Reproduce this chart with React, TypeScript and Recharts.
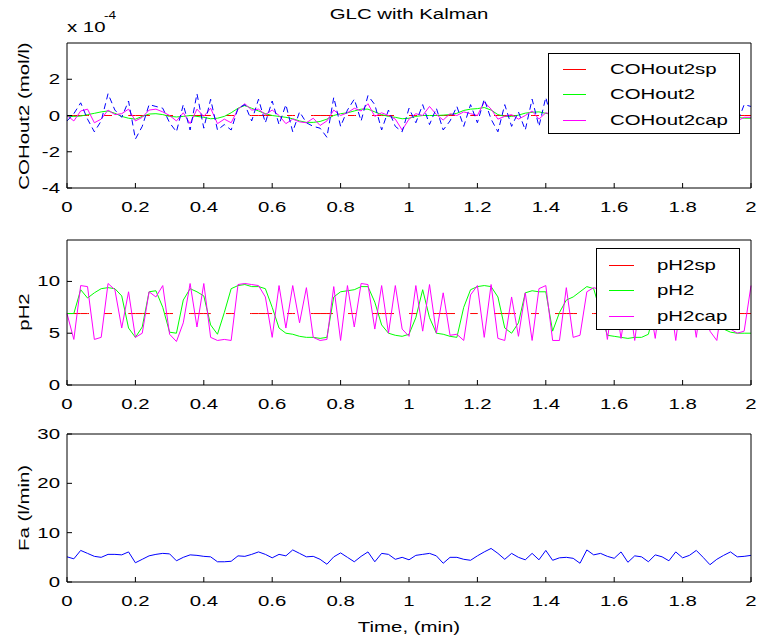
import { Legend, Line, LineChart, XAxis, YAxis } from "recharts";

// MATLAB-style figure: three stacked axes, boxed, ticks pointing inward.
const FONT = '"Liberation Sans", Arial, Helvetica, sans-serif';
const WIDE = 1.36; // the original font is much wider than Arial at the same height

const TIME = [
  0, 0.02, 0.04, 0.06, 0.08, 0.1, 0.12, 0.14, 0.16, 0.18,
  0.2, 0.22, 0.24, 0.26, 0.28, 0.3, 0.32, 0.34, 0.36, 0.38,
  0.4, 0.42, 0.44, 0.46, 0.48, 0.5, 0.52, 0.54, 0.56, 0.58,
  0.6, 0.62, 0.64, 0.66, 0.68, 0.7, 0.72, 0.74, 0.76, 0.78,
  0.8, 0.82, 0.84, 0.86, 0.88, 0.9, 0.92, 0.94, 0.96, 0.98,
  1, 1.02, 1.04, 1.06, 1.08, 1.1, 1.12, 1.14, 1.16, 1.18,
  1.2, 1.22, 1.24, 1.26, 1.28, 1.3, 1.32, 1.34, 1.36, 1.38,
  1.4, 1.42, 1.44, 1.46, 1.48, 1.5, 1.52, 1.54, 1.56, 1.58,
  1.6, 1.62, 1.64, 1.66, 1.68, 1.7, 1.72, 1.74, 1.76, 1.78,
  1.8, 1.82, 1.84, 1.86, 1.88, 1.9, 1.92, 1.94, 1.96, 1.98,
  2,
];

// COHout2 in units of 1e-4 mol/l
const CO_SP_LEVEL = 0;
const CO_MEAS = [
  -0.3, 0.1, 0.7, -0.2, -0.9, -0.3, 1.2, 0.3, -0.1, 0.8,
  -1.3, -0.6, 0.6, 0.5, 0.4, -0.4, -0.9, 0.6, -0.8, 1.2,
  -0.7, 0.9, -0.8, -0.5, -0.8, 0.4, 0.6, -0.3, 0.9, -0.4,
  0.8, -0.5, 0.6, -0.9, 0.2, -0.4, -0.6, -0.7, -1.2, 1.0,
  -0.6, 0.3, 0.9, -0.3, 1.1, 0.6, -0.8, 0.3, -0.6, -0.9,
  0.4, -0.4, 0.6, -0.5, 0.4, -0.8, -0.3, 0.5, -0.6, 0.6,
  -0.4, 0.9, -0.2, -0.9, 0.6, -0.6, 0.2, -0.8, 0.9, -0.6,
  1.0, -0.5, 0.7, -0.8, 0.4, -0.3, 0.8, -0.4, 0.6, -0.7,
  0.3, -0.9, 0.2, -0.6, 0.7, -0.3, 0.5, 0.9, -0.4, 0.6,
  -0.7, 0.2, -0.8, 0.4, -0.5, 0.8, -0.6, 0.5, -0.4, 0.6,
  0.5,
];
const CO_TRUE = [
  -0.05, -0.05, -0.03, 0.05, 0.12, 0.2, 0.25, 0.12, -0.05, -0.15,
  -0.2, -0.05, 0.08, 0.1, 0.05, -0.05, -0.08, -0.05, 0, -0.05,
  -0.1, -0.18, -0.15, -0.05, 0.15, 0.4, 0.55, 0.4, 0.25, 0.1,
  0, -0.05, -0.1, -0.18, -0.3, -0.38, -0.38, -0.33, -0.2, 0,
  0.1, 0.15, 0.25, 0.35, 0.35, 0.2, 0.05, -0.05, -0.1, -0.18,
  -0.15, -0.05, 0, 0, 0, 0.02, 0.05, 0.12, 0.28, 0.35,
  0.38, 0.44, 0.3, 0.05, -0.05, -0.05, 0.02, 0.13, 0.18, 0.2,
  0.12, 0.05, -0.05, -0.1, -0.05, 0.05, 0.2, 0.3, 0.25, 0.1,
  -0.05, -0.2, -0.3, -0.25, -0.1, 0.05, 0.2, 0.3, 0.25, 0.1,
  -0.05, -0.15, -0.2, -0.1, 0.05, 0.15, 0.1, 0, -0.1, -0.15,
  -0.15,
];
const CO_EST = [
  0, -0.3, 0.25, 0.35, -0.4, -0.2, 0.3, 0.05, 0.1, 0.35,
  -0.3, -0.1, 0.3, 0.35, 0.2, 0, -0.3, 0.15, -0.45, 0.35,
  -0.05, 0.4, -0.45, -0.2, -0.4, 0.35, 0.65, 0.3, 0.35, 0.05,
  0.3, 0, -0.45, -0.2, -0.35, -0.4, -0.15, -0.55, -0.3, 0.3,
  0, 0.15, 0.4, 0.25, 0.65, -0.05, 0.15, 0, -0.2, -0.8,
  -0.2, 0.1, 0, 0.5, 0.05, -0.25, 0.1, 0, 0.2, 0.1,
  0, 0.75, 0.35, -0.2, -0.05, 0.05, -0.2, 0, 0.25, -0.2,
  0.15, 0.05, -0.3, 0.1, -0.2, 0.3, 0, 0.5, 0.1, 0.3,
  -0.3, -0.1, -0.5, 0, -0.3, 0.2, 0, 0.45, 0.2, -0.1,
  0.15, -0.4, -0.1, -0.35, 0.2, 0.4, -0.1, 0.2, -0.3, -0.1,
  -0.1,
];

const PH_SP_LEVEL = 6.9;
const PH_TRUE = [
  6.9, 6.9, 9.2, 8.4, 8.9, 9.3, 9.4, 9.3, 8.6, 5.5,
  4.6, 5.6, 9.0, 9.1, 7.5, 5.1, 5.0, 8.2, 9.3, 9.0,
  8.6, 5.8, 4.9, 7.0, 9.3, 9.6, 9.7, 9.5, 9.5, 9.3,
  7.5, 5.5, 5.0, 4.9, 4.7, 4.6, 4.6, 4.5, 4.6, 8.5,
  9.0, 9.1, 9.2, 9.5, 9.5, 8.0, 5.8, 5.0, 4.8, 4.7,
  4.9, 6.5, 9.2, 6.5, 5.0, 4.9, 4.7, 4.6, 7.5, 9.2,
  9.5, 9.6, 9.5, 8.5, 5.5, 5.0, 6.0, 8.9, 9.1, 9.0,
  9.0, 5.2, 7.0, 8.2, 8.5, 9.0, 9.5, 9.3, 7.0, 4.8,
  4.7, 4.6, 4.5, 4.6, 4.6, 4.9, 7.5, 9.0, 9.2, 9.3,
  9.1, 9.0, 8.8, 7.0, 5.6, 5.5, 5.4, 5.1, 5.0, 5.0,
  5.0,
];
const PH_EST = [
  6.9, 4.4, 9.6, 9.5, 4.4, 4.6, 9.8, 9.2, 5.5, 9.0,
  4.6, 5.0, 9.0, 8.5, 9.6, 4.9, 4.2, 6.0, 9.8, 5.6,
  9.8, 4.6, 4.3, 4.4, 4.3, 9.7, 9.8, 9.7, 9.6, 8.5,
  4.6, 9.6, 5.5, 9.6, 6.0, 9.4, 4.6, 4.3, 4.4, 9.5,
  4.3, 9.6, 5.6, 9.8, 9.7, 5.4, 9.6, 5.0, 9.6, 5.4,
  4.7, 9.6, 5.2, 9.7, 5.0, 8.9, 4.8, 4.9, 4.3, 8.7,
  9.6, 4.6, 9.7, 4.5, 4.3, 8.5, 4.7, 8.9, 4.3, 9.3,
  9.6, 4.3, 4.3, 9.4, 4.6, 4.8, 9.0, 9.4, 9.2, 4.4,
  9.0, 4.5, 8.8, 4.3, 9.3, 8.5, 4.5, 9.5, 9.2, 4.3,
  9.4, 9.0, 4.6, 9.3, 5.2, 4.3, 8.8, 5.4, 5.0, 5.2,
  9.6,
];

const FA = [
  5.1, 4.7, 6.4, 5.8, 5.2, 5.0, 5.6, 5.6, 5.5, 6.1,
  3.9, 4.6, 5.3, 5.6, 5.8, 5.7, 4.3, 5.0, 5.5, 5.4,
  5.2, 5.1, 4.1, 4.1, 4.2, 5.3, 5.2, 5.6, 6.1, 5.6,
  4.9, 5.6, 5.3, 6.5, 5.8, 5.1, 5.2, 4.6, 3.6, 5.1,
  5.9, 5.0, 4.1, 5.2, 6.1, 4.1, 5.8, 5.6, 4.6, 5.0,
  4.5, 5.4, 5.6, 5.8, 5.3, 3.8, 5.0, 5.0, 4.6, 4.4,
  5.3, 6.1, 6.8, 5.8, 4.6, 5.8, 5.0, 4.5, 5.8, 4.5,
  6.4, 4.4, 4.9, 5.0, 4.8, 3.8, 6.5, 5.5, 5.8, 5.2,
  4.8, 6.1, 4.0, 5.3, 5.1, 4.1, 5.5, 5.1, 4.3, 6.1,
  4.9, 5.4, 6.4, 5.0, 3.5, 4.6, 5.4, 6.1, 5.1, 5.2,
  5.4,
];

const X_TICKS = [0, 0.2, 0.4, 0.6, 0.8, 1, 1.2, 1.4, 1.6, 1.8, 2];
const CO_TICKS = [-4, -2, 0, 2];
const PH_TICKS = [0, 5, 10];
const FA_TICKS = [0, 10, 20, 30];

const coData = TIME.map((t, i) => ({
  t,
  sp: CO_SP_LEVEL,
  meas: CO_MEAS[i],
  y: CO_TRUE[i],
  cap: CO_EST[i],
}));
const phData = TIME.map((t, i) => ({ t, sp: PH_SP_LEVEL, y: PH_TRUE[i], cap: PH_EST[i] }));
const faData = TIME.map((t, i) => ({ t, fa: FA[i] }));

const RED = "#ff0000";
const GREEN = "#00ff00";
const MAGENTA = "#ff00ff";
const BLUE = "#0000ff";

const CO_LEGEND = [
  { name: "COHout2sp", color: RED },
  { name: "COHout2", color: GREEN },
  { name: "COHout2cap", color: MAGENTA },
];
const PH_LEGEND = [
  { name: "pH2sp", color: RED },
  { name: "pH2", color: GREEN },
  { name: "pH2cap", color: MAGENTA },
];

function BottomTick(props: any) {
  const { x, y, payload } = props;
  return (
    <text
      transform={`translate(${x},${y + 24}) scale(${WIDE},1)`}
      textAnchor="middle"
      fontSize={15}
      fontFamily={FONT}
      fill="#000"
    >
      {String(payload.value)}
    </text>
  );
}

function LeftTick(props: any) {
  const { x, y, payload } = props;
  return (
    <text
      transform={`translate(${x - 7},${y + 5}) scale(${WIDE},1)`}
      textAnchor="end"
      fontSize={15}
      fontFamily={FONT}
      fill="#000"
    >
      {String(payload.value)}
    </text>
  );
}

// box + inward ticks on all four sides, like MATLAB's "box on"
function frame(domain: [number, number], yTicks: number[]) {
  const line = { stroke: "#000" };
  return [
    <XAxis
      key="xb"
      xAxisId="b"
      type="number"
      dataKey="t"
      domain={[0, 2]}
      ticks={X_TICKS}
      height={30}
      axisLine={line}
      tickLine={line}
      tickSize={-5}
      tickMargin={5}
      tick={<BottomTick />}
      interval={0}
    />,
    <XAxis
      key="xt"
      xAxisId="t"
      orientation="top"
      type="number"
      dataKey="t"
      domain={[0, 2]}
      ticks={X_TICKS}
      height={1}
      axisLine={line}
      tickLine={line}
      tickSize={-5}
      tick={false}
      interval={0}
    />,
    <YAxis
      key="yl"
      yAxisId="l"
      type="number"
      domain={domain}
      ticks={yTicks}
      width={67}
      axisLine={line}
      tickLine={line}
      tickSize={-5}
      tickMargin={5}
      tick={<LeftTick />}
      interval={0}
      allowDataOverflow
    />,
    <YAxis
      key="yr"
      yAxisId="r"
      orientation="right"
      type="number"
      domain={domain}
      ticks={yTicks}
      width={1}
      axisLine={line}
      tickLine={line}
      tickSize={-5}
      tick={false}
      interval={0}
      allowDataOverflow
    />,
  ];
}

function BoxLegend(props: any) {
  const { entries, rows, lineX, textX } = props;
  return (
    <div
      style={{
        position: "relative",
        width: "100%",
        height: "100%",
        boxSizing: "border-box",
        border: "1px solid #000",
        background: "#fff",
      }}
    >
      {entries.map((p: any, i: number) => (
        <div key={p.name} style={{ position: "absolute", left: 0, top: rows[i] - 10, width: "100%", height: 20 }}>
          <svg width={lineX[1] + 2} height={20} style={{ position: "absolute", left: 0, top: 0 }}>
            <line x1={lineX[0]} x2={lineX[1]} y1={10.5} y2={10.5} stroke={p.color} />
          </svg>
          <span
            style={{
              position: "absolute",
              left: textX,
              top: 0,
              lineHeight: "20px",
              fontSize: 15,
              fontFamily: FONT,
              color: "#000",
              whiteSpace: "nowrap",
              transform: `scaleX(${WIDE})`,
              transformOrigin: "left center",
            }}
          >
            {p.name}
          </span>
        </div>
      ))}
    </div>
  );
}

const MARGIN = { top: 9, right: 6, bottom: 0, left: 0 };

export default function App() {
  const seriesProps = {
    xAxisId: "b",
    yAxisId: "l",
    type: "linear" as const,
    dot: false,
    isAnimationActive: false,
    strokeWidth: 1,
  };
  return (
    <div
      style={{
        position: "absolute",
        left: 0,
        top: 0,
        width: 758,
        height: 639,
        background: "#fff",
        fontFamily: FONT,
      }}
    >
      <div style={{ position: "absolute", left: 0, top: 33 }}>
        <LineChart width={758} height={185} data={coData} margin={MARGIN}>
          {frame([-4, 4], CO_TICKS)}
          <Line {...seriesProps} dataKey="sp" name="COHout2sp" stroke={RED} strokeDasharray="22 15 8 16" />
          <Line {...seriesProps} dataKey="y" name="COHout2" stroke={GREEN} />
          <Line {...seriesProps} dataKey="cap" name="COHout2cap" stroke={MAGENTA} />
          <Line {...seriesProps} dataKey="meas" name="meas" stroke={BLUE} strokeDasharray="6 4" legendType="none" />
          <Legend
            layout="horizontal"
            verticalAlign="middle"
            align="center"
            width={192}
            height={81}
            wrapperStyle={{ left: 548, top: 20, width: 192, height: 81 }}
            content={<BoxLegend entries={CO_LEGEND} rows={[15, 40, 66]} lineX={[14, 37]} textX={61} />}
          />
        </LineChart>
      </div>

      <div style={{ position: "absolute", left: 0, top: 230 }}>
        <LineChart width={758} height={185} data={phData} margin={MARGIN}>
          {frame([0, 14], PH_TICKS)}
          <Line {...seriesProps} dataKey="sp" name="pH2sp" stroke={RED} strokeDasharray="22 15 8 16" />
          <Line {...seriesProps} dataKey="y" name="pH2" stroke={GREEN} />
          <Line {...seriesProps} dataKey="cap" name="pH2cap" stroke={MAGENTA} />
          <Legend
            layout="horizontal"
            verticalAlign="middle"
            align="center"
            width={144}
            height={82}
            wrapperStyle={{ left: 596, top: 18, width: 144, height: 82 }}
            content={<BoxLegend entries={PH_LEGEND} rows={[16, 41, 67]} lineX={[12, 37]} textX={60} />}
          />
        </LineChart>
      </div>

      <div style={{ position: "absolute", left: 0, top: 424 }}>
        <LineChart width={758} height={188} data={faData} margin={MARGIN}>
          {frame([0, 30], FA_TICKS)}
          <Line {...seriesProps} dataKey="fa" name="Fa" stroke={BLUE} />
        </LineChart>
      </div>

      <svg
        width={758}
        height={639}
        style={{ position: "absolute", left: 0, top: 0, pointerEvents: "none" }}
        fontFamily={FONT}
        fill="#000"
      >
        <text transform={`translate(409,19) scale(${WIDE},1)`} textAnchor="middle" fontSize={15}>
          GLC with Kalman
        </text>
        <text transform={`translate(67,32) scale(${WIDE},1)`} fontSize={15}>
          x 10
        </text>
        <text transform={`translate(104,19) scale(${WIDE},1)`} fontSize={10}>
          -4
        </text>
        <text transform={`translate(29,116) rotate(-90) scale(${WIDE},1)`} textAnchor="middle" fontSize={15}>
          COHout2 (mol/l)
        </text>
        <text transform={`translate(29,312) rotate(-90) scale(${WIDE},1)`} textAnchor="middle" fontSize={15}>
          pH2
        </text>
        <text transform={`translate(29,508) rotate(-90) scale(${WIDE},1)`} textAnchor="middle" fontSize={15}>
          Fa (l/min)
        </text>
        <text transform={`translate(409,632) scale(${WIDE},1)`} textAnchor="middle" fontSize={15}>
          Time, (min)
        </text>
      </svg>
    </div>
  );
}
